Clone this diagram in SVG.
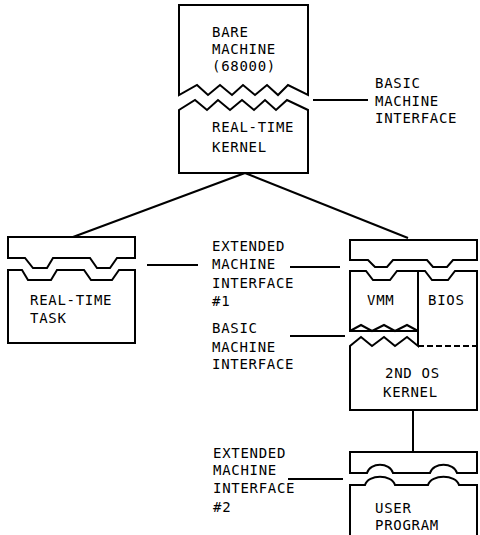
<svg xmlns="http://www.w3.org/2000/svg" width="480" height="535" viewBox="0 0 480 535">
<style>
.s{fill:#fff;stroke:#000;stroke-width:2;stroke-linejoin:miter}
.l{fill:none;stroke:#000;stroke-width:2}
.d{fill:none;stroke:#000;stroke-width:2;stroke-dasharray:6,3}
text{font-family:"DejaVu Sans Mono","Liberation Mono",monospace;font-size:14px;letter-spacing:0.7px;fill:#000}
</style>
<rect width="480" height="535" fill="#fff"/>
<g id="connectors">
<path class="l" d="M245,173 L73,237"/>
<path class="l" d="M245,173 L408,238"/>
<path class="l" d="M413,410 V452"/>
<path class="l" d="M313,100 H368"/>
<path class="l" d="M147,265 H198"/>
<path class="l" d="M290,267 H340"/>
<path class="l" d="M290,336 H345"/>
<path class="l" d="M288,479 H343"/>
</g>
<g id="bare-machine">
<path class="s" d="M179,5 H308 V95 L288,85 L278,95 L267,85 L255,95 L243,85 L232,95 L220,85 L208,95 L197,85 L179,95 Z"/>
<text x="212" y="37">BARE</text>
<text x="212" y="54">MACHINE</text>
<text x="212" y="71">(68000)</text>
</g>
<g id="rt-kernel">
<path class="s" d="M179,173 V110 L195,100 L207,110 L218,100 L230,110 L242,100 L254,110 L265,100 L276,110 L287,100 L308,110 V173 Z"/>
<text x="212" y="132">REAL-TIME</text>
<text x="212" y="152">KERNEL</text>
</g>
<g id="basic-mi-1">
<text x="375" y="88">BASIC</text>
<text x="375" y="106">MACHINE</text>
<text x="375" y="123">INTERFACE</text>
</g>
<g id="rt-task">
<path class="s" d="M8,237 H135 V258 H117 L110,268 H97 L90,258 H53 L47,268 H33 L25,258 H8 Z"/>
<path class="s" d="M8,343 V270 H22 L28,280 H51 L57,270 H84 L91,280 H112 L119,270 H135 V343 Z"/>
<text x="30" y="305">REAL-TIME</text>
<text x="30" y="323">TASK</text>
</g>
<g id="emi-1">
<text x="212" y="251">EXTENDED</text>
<text x="212" y="269">MACHINE</text>
<text x="212" y="288">INTERFACE</text>
<text x="212" y="306">#1</text>
</g>
<g id="basic-mi-2">
<text x="212" y="333">BASIC</text>
<text x="212" y="352">MACHINE</text>
<text x="212" y="369">INTERFACE</text>
</g>
<g id="vm-stack">
<path class="s" d="M350,240 H477 V260 H453 L447,267 H433 L427,260 H393 L387,267 H375 L368,260 H350 Z"/>
<path class="s" d="M350,331 V271 H366 L373,280 H390 L397,271 H425 L432,280 H448 L455,271 H477 V410 H350 V346 L361,337 L372,346 L384,337 L395,346 L407,337 L418,346 V331 Z"/>
<path class="l" d="M350,331 L361,325 L372,331 L384,325 L395,331 L407,325 L418,331"/>
<path class="l" d="M418,271 V346"/>
<path class="d" d="M418,346 H477"/>
<text x="367" y="305">VMM</text>
<text x="428" y="305">BIOS</text>
<text x="385" y="378">2ND OS</text>
<text x="383" y="397">KERNEL</text>
</g>
<g id="emi-2">
<text x="213" y="458">EXTENDED</text>
<text x="213" y="475">MACHINE</text>
<text x="213" y="493">INTERFACE</text>
<text x="213" y="512">#2</text>
</g>
<g id="user-program">
<path class="s" d="M350,452 H477 V473 H457 C454,462 433,462 430,473 H393 C390,462 370,462 367,473 H350 Z"/>
<path class="s" d="M350,537 V485 H365 C368,474 392,474 395,485 H428 C431,474 456,474 459,485 H477 V537"/>
<text x="375" y="513">USER</text>
<text x="375" y="530">PROGRAM</text>
</g>
</svg>
